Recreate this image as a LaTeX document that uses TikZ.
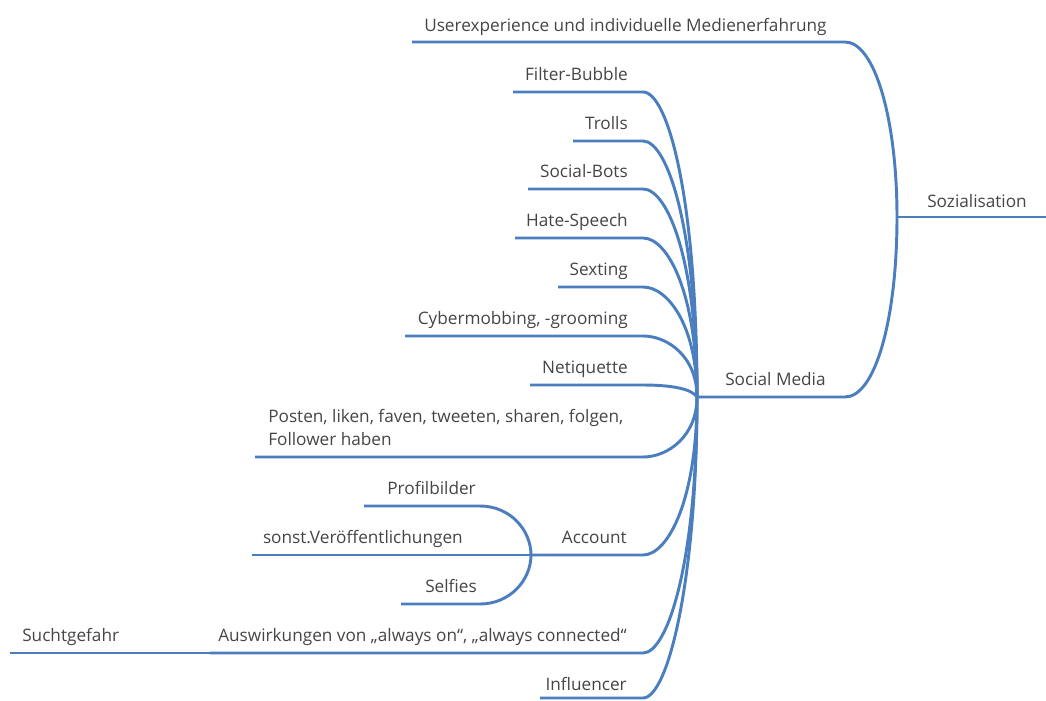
\documentclass[tikz,border=0pt]{standalone}
\usepackage{fontspec}
\setmainfont{Open Sans}
\definecolor{branch}{HTML}{4A7EBF}
\definecolor{txt}{HTML}{454545}
\begin{document}
\begin{tikzpicture}[x=0.75pt,y=-0.75pt,
  link/.style={draw=branch,line width=2.2pt},
  lbl/.style={inner sep=0pt,text=txt,font=\fontsize{12.9}{17.25}\selectfont},
  lr/.style={lbl,anchor=base east},
  ll/.style={lbl,anchor=base west}]
\useasboundingbox (0,0) rectangle (1046,700);
% junctions
\coordinate (soz) at (897,217);
\coordinate (sm) at (697,397);
\coordinate (acc) at (531,555);
\coordinate (aus) at (210,653);
% free ends
\coordinate (ux-l) at (412,42);
\coordinate (soz-r) at (1046,217);
\coordinate (fb-l) at (513,92);
\coordinate (tr-l) at (573,141);
\coordinate (sb-l) at (528,189);
\coordinate (hs-l) at (515,238);
\coordinate (sx-l) at (558,287);
\coordinate (cm-l) at (405,336);
\coordinate (nq-l) at (530,385);
\coordinate (po-l) at (255,457);
\coordinate (pb-l) at (364,506);
\coordinate (sv-l) at (252,555);
\coordinate (sf-l) at (401,604);
\coordinate (sg-l) at (10,653);
\coordinate (in-l) at (540,698);
% labels
\node[ll] (ux) at (424,31) {Userexperience und individuelle Medienerfahrung};
\node[ll] (sozt) at (927,207) {Sozialisation};
\node[ll] (smt) at (725,385) {Social Media};
\node[lr] (fb) at (628,80) {Filter-Bubble};
\node[lr] (tr) at (628,129) {Trolls};
\node[lr] (sb) at (628,177) {Social-Bots};
\node[lr] (hs) at (628,226) {Hate-Speech};
\node[lr] (sx) at (628,275) {Sexting};
\node[lr] (cm) at (628,324) {Cybermobbing, -grooming};
\node[lr] (nq) at (628,373) {Netiquette};
\node[lbl,align=left,anchor=north west] (po) at (268,409) {Posten, liken, faven, tweeten, sharen, folgen,\\Follower haben};
\node[lr] (ac) at (627,543) {Account};
\node[lr] (pb) at (476,494) {Profilbilder};
\node[lr] (sv) at (463,543) {sonst.Veröffentlichungen};
\node[lr] (sf) at (477,592) {Selfies};
\node[lr] (au) at (627,641) {Auswirkungen von „always on“, „always connected“};
\node[ll] (sg) at (22,641) {Suchtgefahr};
\node[lr] (in) at (627,690) {Influencer};
% connectors
\path[link] (ux-l) -- (845,42) .. controls (875,42) and (897,120) .. (soz);
\path[link] (sm) -- (845,397) .. controls (875,397) and (897,320) .. (soz);
\path[link] (soz) -- (soz-r);
\path[link] (fb-l) -- (643,92) .. controls (668,92) and (697,199) .. (sm);
\path[link] (tr-l) -- (643,141) .. controls (668,141) and (697,231) .. (sm);
\path[link] (sb-l) -- (643,189) .. controls (668,189) and (697,262) .. (sm);
\path[link] (hs-l) -- (643,238) .. controls (668,238) and (697,294) .. (sm);
\path[link] (sx-l) -- (643,287) .. controls (668,287) and (697,326) .. (sm);
\path[link] (cm-l) -- (643,336) .. controls (668,336) and (697,357) .. (sm);
\path[link] (nq-l) -- (643,385) .. controls (672,385) and (692,389) .. (sm);
\path[link] (po-l) -- (643,457) .. controls (668,457) and (697,436) .. (sm);
\path[link] (acc) -- (643,555) .. controls (668,555) and (697,500) .. (sm);
\path[link] (aus) -- (643,653) .. controls (668,653) and (697,560) .. (sm);
\path[link] (in-l) -- (643,698) .. controls (668,698) and (697,580) .. (sm);
\path[link] (pb-l) -- (480,506) .. controls (510,506) and (531,530) .. (acc);
\path[link] (sf-l) -- (480,604) .. controls (510,604) and (531,580) .. (acc);
\path[link] (sv-l) -- (acc);
\path[link] (sg-l) -- (aus);
\end{tikzpicture}
\end{document}
